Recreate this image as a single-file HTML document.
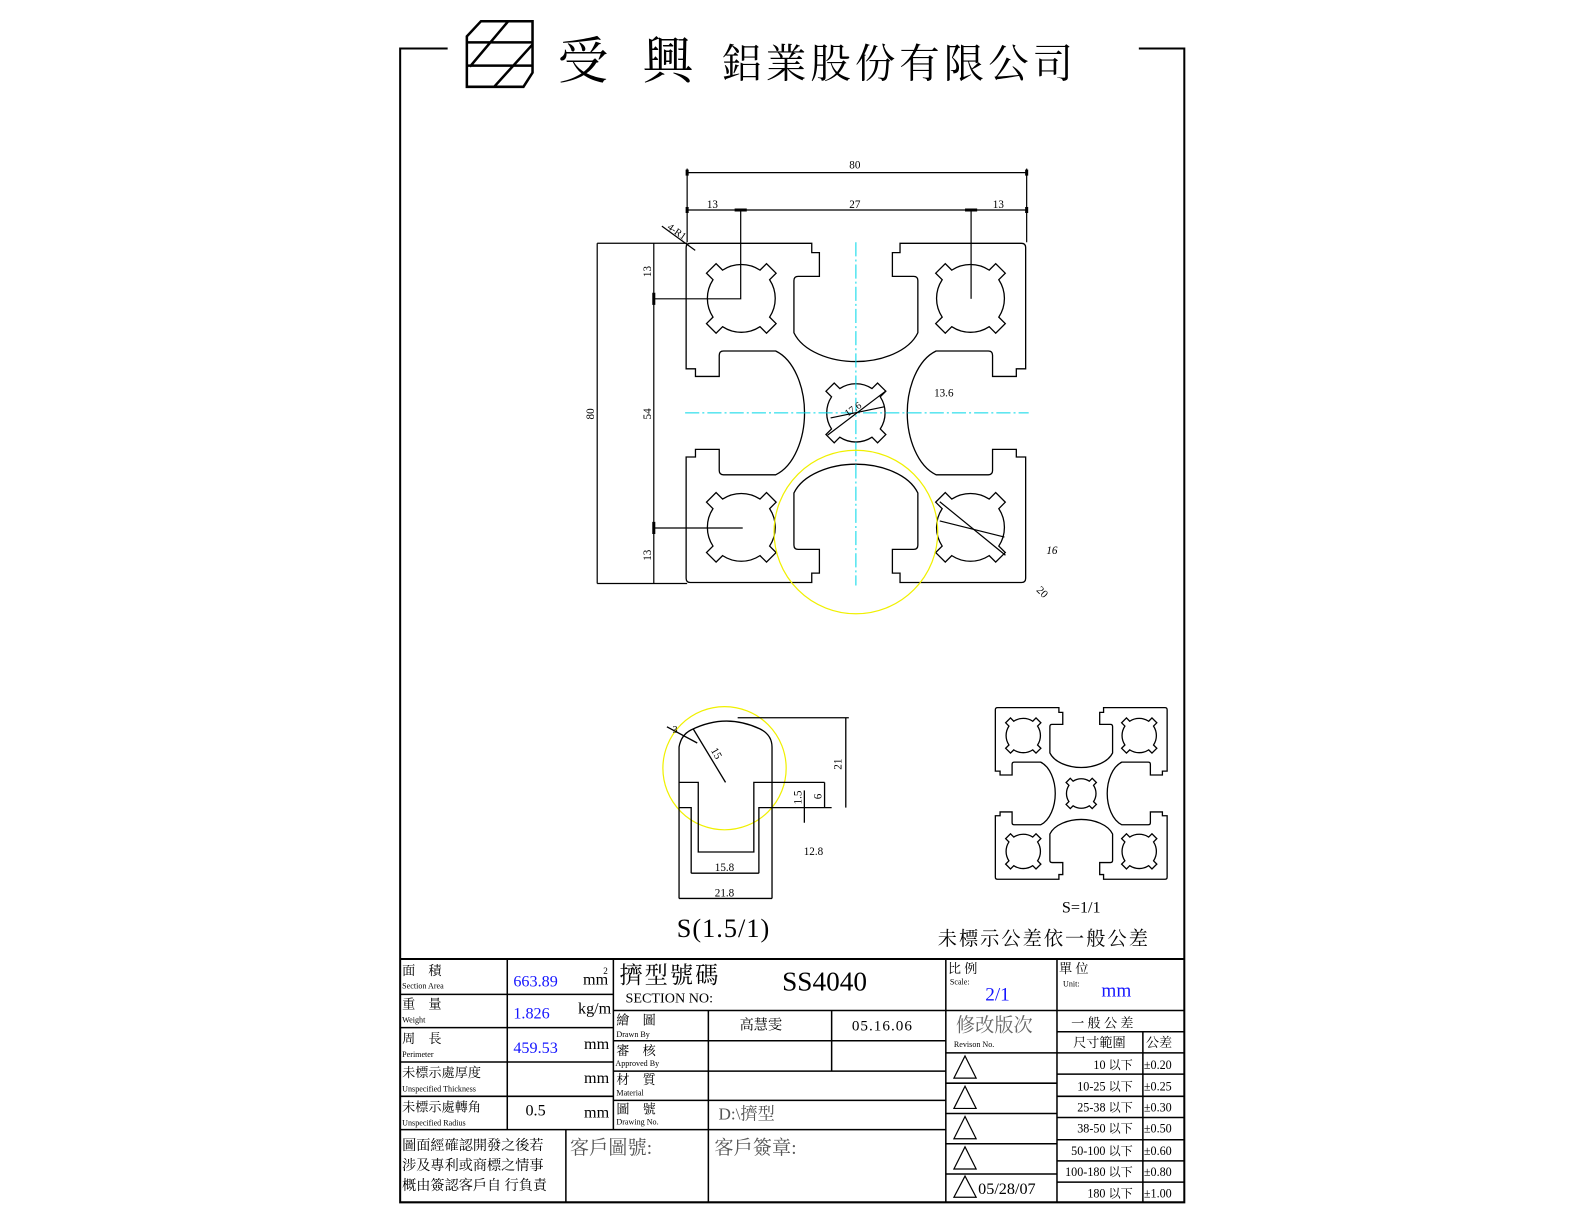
<!DOCTYPE html>
<html><head><meta charset="utf-8"><style>
html,body{margin:0;padding:0;background:#fff}
svg{display:block}
text{font-family:"Liberation Serif","Noto Serif CJK SC","Noto Sans CJK TC",serif;fill:#000}
.s{font-family:"Liberation Sans","Noto Sans CJK TC",sans-serif}
.cj{font-family:"Liberation Serif","Noto Serif CJK SC",serif}
.b{fill:#1515ff}
</style></head><body>
<svg width="1584" height="1224" viewBox="0 0 1584 1224" xmlns="http://www.w3.org/2000/svg">
<defs>
<path id="prof" fill="none" stroke="#000" stroke-width="1.3" vector-effect="non-scaling-stroke" d="M0,-12.1 C-6,-12.1 -12.5,-14.5 -14.6,-18.9 L-14.6,-31.2 Q-14.6,-32.2 -13.6,-32.2 L-8.6,-32.2 L-8.6,-37.8 L-10.4,-37.8 L-10.4,-40 L-39,-40 Q-40,-40 -40,-39 L-40,-10.4 L-37.8,-10.4 L-37.8,-8.6 L-32.2,-8.6 L-32.2,-13.6 Q-32.2,-14.6 -31.2,-14.6 L-18.9,-14.6 C-14.5,-12.5 -12.1,-6 -12.1,0 C-12.1,6 -14.5,12.5 -18.9,14.6 L-31.2,14.6 Q-32.2,14.6 -32.2,13.6 L-32.2,8.6 L-37.8,8.6 L-37.8,10.4 L-40,10.4 L-40,39 Q-40,40 -39,40 L-10.4,40 L-10.4,37.8 L-8.6,37.8 L-8.6,32.2 L-13.6,32.2 Q-14.6,32.2 -14.6,31.2 L-14.6,18.9 C-12.5,14.5 -6,12.1 0,12.1 C6,12.1 12.5,14.5 14.6,18.9 L14.6,31.2 Q14.6,32.2 13.6,32.2 L8.6,32.2 L8.6,37.8 L10.4,37.8 L10.4,40 L39,40 Q40,40 40,39 L40,10.4 L37.8,10.4 L37.8,8.6 L32.2,8.6 L32.2,13.6 Q32.2,14.6 31.2,14.6 L18.9,14.6 C14.5,12.5 12.1,6 12.1,0 C12.1,-6 14.5,-12.5 18.9,-14.6 L31.2,-14.6 Q32.2,-14.6 32.2,-13.6 L32.2,-8.6 L37.8,-8.6 L37.8,-10.4 L40,-10.4 L40,-39 Q40,-40 39,-40 L10.4,-40 L10.4,-37.8 L8.6,-37.8 L8.6,-32.2 L13.6,-32.2 Q14.6,-32.2 14.6,-31.2 L14.6,-18.9 C12.5,-14.5 6,-12.1 0,-12.1 Z"/>
<path id="hole" fill="none" stroke="#000" stroke-width="1.3" vector-effect="non-scaling-stroke" d="M6.67,4.41 L8.2,5.94 L5.94,8.2 L4.41,6.67 A8,8 0 0 1 -4.41,6.67 L-5.94,8.2 L-8.2,5.94 L-6.67,4.41 A8,8 0 0 1 -6.67,-4.41 L-8.2,-5.94 L-5.94,-8.2 L-4.41,-6.67 A8,8 0 0 1 4.41,-6.67 L5.94,-8.2 L8.2,-5.94 L6.67,-4.41 A8,8 0 0 1 6.67,4.41 Z"/>
<g id="full">
<use href="#prof"/>
<use href="#hole" transform="translate(-27,-27)"/>
<use href="#hole" transform="translate(27,-27)"/>
<use href="#hole" transform="translate(-27,27)"/>
<use href="#hole" transform="translate(27,27)"/>
<use href="#hole" transform="scale(0.86)"/>
</g>
</defs>
<g transform="scale(1.0105,1.0095)">
<!-- frame -->
<g stroke="#000" stroke-width="2" fill="none">
<path d="M443,48 L396,48 L396,1191 L1172,1191 L1172,48 L1127,48"/>
<path d="M476,21 L527,21 L527,72 L518,86 L462,86 L462,36 Z" stroke-width="2.5"/>
<path d="M462,42 L527,42 M462,65 L527,65 M503,21 L465,66 M527,44 L489,86" stroke-width="2.5"/>
</g>
<text x="552" y="78" font-size="50" class="cj">受</text>
<text x="636" y="78" font-size="50" class="cj">興</text>
<text x="714" y="77" font-size="40" class="cj" letter-spacing="4">鋁業股份有限公司</text>

<g transform="translate(847,409) scale(4.2)"><use href="#full"/></g>
<g stroke="#00d8e8" stroke-width="1" stroke-dasharray="14,3,2,3">
<line x1="678" y1="409" x2="1018" y2="409"/>
<line x1="847" y1="240" x2="847" y2="580"/>
</g>
<circle cx="847" cy="527" r="81" fill="none" stroke="#f0f000" stroke-width="1.2"/>
<g stroke="#000" stroke-width="1.2" fill="none">
<line x1="680" y1="167" x2="680" y2="240"/>
<line x1="1016" y1="167" x2="1016" y2="240"/>
<line x1="680" y1="171" x2="1016" y2="171"/>
<line x1="680" y1="208" x2="1016" y2="208"/>
<path d="M733,208 L733,296 L647,296"/>
<line x1="961" y1="208" x2="961" y2="296"/>
<line x1="591" y1="241" x2="680" y2="241"/>
<line x1="591" y1="578" x2="680" y2="578"/>
<line x1="591" y1="241" x2="591" y2="578"/>
<line x1="647" y1="241" x2="647" y2="578"/>
<line x1="647" y1="523" x2="735" y2="523"/>
<line x1="655" y1="224" x2="688" y2="248"/>
<line x1="819" y1="431" x2="877" y2="387"/>
<line x1="822" y1="414" x2="875" y2="403"/>
<line x1="930" y1="497" x2="995" y2="550"/>
<line x1="930" y1="516" x2="994" y2="532"/>
</g>
<g stroke="#000" stroke-width="3">
<path d="M727,208 h12 M955,208 h12 M647,290 v12 M647,517 v12 M680,205 v6 M1016,205 v6 M680,168 v6 M1016,168 v6"/>
</g>
<g font-size="11" class="s" text-anchor="middle">
<text x="846" y="167">80</text>
<text x="705" y="206">13</text>
<text x="846" y="206">27</text>
<text x="988" y="206">13</text>
<text transform="translate(588,410) rotate(-90)">80</text>
<text transform="translate(644,269) rotate(-90)">13</text>
<text transform="translate(644,410) rotate(-90)">54</text>
<text transform="translate(644,550) rotate(-90)">13</text>
<text x="934" y="393">13.6</text>
<text x="1041" y="549" font-style="italic">16</text>
<text transform="translate(1029,589) rotate(45)">20</text>
<text transform="translate(668,232) rotate(35)" font-size="10">4-R1</text>
<text transform="translate(846,408) rotate(-35)" font-size="10">17.6</text>
</g>

<g transform="translate(1070,786) scale(2.125)"><use href="#full"/></g>
<text x="1070" y="904" font-size="16" text-anchor="middle">S=1/1</text>
<text x="1033" y="936" font-size="19" text-anchor="middle" class="cj" letter-spacing="2">未標示公差依一般公差</text>

<circle cx="717" cy="761" r="61" fill="none" stroke="#f0f000" stroke-width="1.2"/>
<g stroke="#000" stroke-width="1.3" fill="none">
<path d="M672,890 L672,740 Q674,728 684,723 Q718,706 752,722 Q764,728 764,740 L764,890"/>
<path d="M672,775 L691,775 L691,844 L746,844 L746,775 L816,775"/>
<path d="M672,800 L684,800 L684,865 M751,865 L751,800 L823,800"/>
<line x1="684" y1="865" x2="751" y2="865"/>
<line x1="672" y1="890" x2="764" y2="890"/>
<line x1="816" y1="775" x2="816" y2="800"/>
<line x1="730" y1="711" x2="840" y2="711"/>
<line x1="837" y1="711" x2="837" y2="800"/>
<line x1="796" y1="783" x2="796" y2="815"/>
<line x1="686" y1="722" x2="718" y2="775"/>
<line x1="660" y1="720" x2="690" y2="736"/>
</g>
<g font-size="11" class="s" text-anchor="middle">
<text x="717" y="863">15.8</text>
<text x="717" y="888">21.8</text>
<text x="805" y="847">12.8</text>
<text transform="translate(833,757) rotate(-90)">21</text>
<text transform="translate(813,789) rotate(-90)">6</text>
<text transform="translate(793,790) rotate(-90)">1.5</text>
<text transform="translate(706,748) rotate(60)">15</text>
<text x="668" y="726" font-size="10">3</text>
</g>
<text x="716" y="928" font-size="26" text-anchor="middle" letter-spacing="1">S(1.5/1)</text>

<g stroke="#000" stroke-width="1.5" fill="none">
<line x1="396" y1="950" x2="1172" y2="950" stroke-width="2"/>
<line x1="502" y1="950" x2="502" y2="1119"/>
<line x1="607" y1="950" x2="607" y2="1119"/>
<line x1="560" y1="1119" x2="560" y2="1191"/>
<path d="M396,985 H607 M396,1018 H607 M396,1052 H607 M396,1086 H607 M396,1119 H936"/>
<line x1="701" y1="1001" x2="701" y2="1191"/>
<line x1="823" y1="1001" x2="823" y2="1061"/>
<path d="M607,1001 H936 M607,1031 H936 M607,1061 H936 M607,1090 H936"/>
<line x1="936" y1="950" x2="936" y2="1191"/>
<line x1="1046" y1="950" x2="1046" y2="1191"/>
<path d="M936,1001 H1172 M936,1043 H1046 M936,1073 H1046 M936,1103 H1046 M936,1133 H1046 M936,1163 H1046"/>
<path d="M1046,1022 H1172 M1046,1043 H1172 M1046,1064 H1172 M1046,1086 H1172 M1046,1107 H1172 M1046,1129 H1172 M1046,1150 H1172 M1046,1171 H1172"/>
<line x1="1131" y1="1022" x2="1131" y2="1191"/>
<path d="M955,1046 L944,1068 L966,1068 Z M955,1076 L944,1098 L966,1098 Z M955,1106 L944,1128 L966,1128 Z M955,1136 L944,1158 L966,1158 Z M955,1165 L944,1186 L966,1186 Z" stroke-width="1.2"/>
</g>
<g class="cj" font-size="13">
<text x="398" y="966">面　積</text>
<text x="398" y="999">重　量</text>
<text x="398" y="1033">周　長</text>
<text x="398" y="1067">未標示處厚度</text>
<text x="398" y="1101">未標示處轉角</text>
<text x="398" y="1139" font-size="14">圖面經確認開發之後若</text>
<text x="398" y="1159" font-size="14">涉及專利或商標之情事</text>
<text x="398" y="1179" font-size="14">概由簽認客戶自 行負責</text>
<text x="610" y="1015">繪　圖</text>
<text x="610" y="1045">審　核</text>
<text x="610" y="1074">材　質</text>
<text x="610" y="1103">圖　號</text>
<text x="938" y="964">比 例</text>
<text x="1048" y="964">單 位</text>
<text x="1060" y="1018">一 般 公 差</text>
<text x="1062" y="1037">尺寸範圍</text>
<text x="1134" y="1037">公差</text>
<text x="732" y="1020" font-size="14">高慧雯</text>
</g>
<g class="s" font-size="8">
<text x="398" y="979">Section Area</text>
<text x="398" y="1013">Weight</text>
<text x="398" y="1047">Perimeter</text>
<text x="398" y="1081">Unspecified Thickness</text>
<text x="398" y="1115">Unspecified Radius</text>
<text x="610" y="1027">Drawn By</text>
<text x="609" y="1056">Approved By</text>
<text x="610" y="1085">Material</text>
<text x="610" y="1114">Drawing No.</text>
<text x="940" y="975">Scale:</text>
<text x="1052" y="977">Unit:</text>
<text x="944" y="1037">Revison No.</text>
</g>
<g font-size="16">
<text x="508" y="977" class="b">663.89</text>
<text x="508" y="1009" class="b">1.826</text>
<text x="508" y="1043" class="b">459.53</text>
<text x="520" y="1105">0.5</text>
<text x="577" y="975">mm</text><text x="597" y="965" font-size="9">2</text>
<text x="572" y="1004">kg/m</text>
<text x="578" y="1039">mm</text>
<text x="578" y="1073">mm</text>
<text x="578" y="1107">mm</text>
<text x="975" y="991" font-size="19" class="b">2/1</text>
<text x="1090" y="987" font-size="19" class="b">mm</text>
<text x="619" y="993" font-size="14">SECTION NO:</text>
<text x="774" y="981" font-size="27">SS4040</text>
<text x="843" y="1021" font-size="15" letter-spacing="1">05.16.06</text>
<text x="968" y="1183" font-size="16">05/28/07</text>
</g>
<text x="613" y="974" font-size="23" class="cj" letter-spacing="2">擠型號碼</text>
<text x="946" y="1022" font-size="19" class="cj" style="fill:#666">修改版次</text>
<text x="711" y="1109" font-size="17" class="cj" style="fill:#555">D:\擠型</text>
<text x="564" y="1143" font-size="19" class="cj" style="fill:#555">客戶圖號:</text>
<text x="707" y="1143" font-size="19" class="cj" style="fill:#555">客戶簽章:</text>
<g font-size="12" class="cj" text-anchor="end">
<text x="1121" y="1059">10 以下</text>
<text x="1121" y="1080">10-25 以下</text>
<text x="1121" y="1101">25-38 以下</text>
<text x="1121" y="1122">38-50 以下</text>
<text x="1121" y="1144">50-100 以下</text>
<text x="1121" y="1165">100-180 以下</text>
<text x="1121" y="1186">180 以下</text>
</g>
<g font-size="12" class="cj">
<text x="1132" y="1059">±0.20</text>
<text x="1132" y="1080">±0.25</text>
<text x="1132" y="1101">±0.30</text>
<text x="1132" y="1122">±0.50</text>
<text x="1132" y="1144">±0.60</text>
<text x="1132" y="1165">±0.80</text>
<text x="1132" y="1186">±1.00</text>
</g>
</g>
</svg>
</body></html>
